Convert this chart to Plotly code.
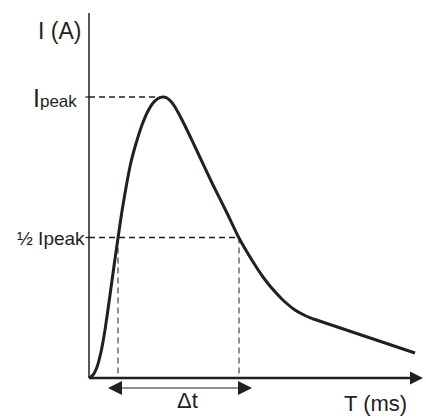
import plotly.graph_objects as go

# Schematic current pulse (T in ms, I in A; arbitrary units)
t_rise = [0, 0.4, 0.8, 1.2, 1.6, 2.1, 2.5, 2.9, 3.3, 3.8, 4.2, 4.6, 5.3, 5.9, 6.4, 6.9, 7.4,
          7.8, 8.2, 8.6, 9.1, 9.9, 10.8, 12.4, 13.7, 15.0, 15.8, 16.6, 17.4, 18.1, 18.9,
          19.6, 20.6, 21.6, 22.3]
i_rise = [0, 0.3, 1.1, 2.6, 4.8, 8.3, 11.2, 14.0, 16.7, 19.6, 21.6, 23.1, 25.3, 26.7, 27.5,
          27.95, 28.1, 28.0, 27.65, 27.1, 26.2, 24.6, 22.7, 19.3, 16.7, 14.0, 12.6, 11.3,
          10.1, 9.2, 8.3, 7.6, 6.8, 6.25, 5.95]
t_tail = [22.3, 32.6]
i_tail = [5.95, 2.5]

t_peak = 7.4
i_peak = 28.1
i_half = 14.05
t_half = [2.9, 15.0]

t_axis_end = 33.4
i_axis_end = 36.5
i_dt_arrow = -1.0

ink = "#231f20"
font = "Arial, Liberation Sans, Helvetica, sans-serif"

fig = go.Figure()

# axes
fig.add_trace(go.Scatter(x=[0, 0], y=[0, i_axis_end], mode="lines",
                         line=dict(color=ink, width=1.5), hoverinfo="skip"))
fig.add_trace(go.Scatter(x=[0, t_axis_end - 0.8], y=[0, 0], mode="lines",
                         line=dict(color=ink, width=2.6), hoverinfo="skip"))
fig.add_trace(go.Scatter(x=[t_axis_end], y=[0], mode="markers",
                         marker=dict(symbol="arrow-right", size=13, color=ink,
                                     line=dict(width=0)), hoverinfo="skip"))

# small ticks on the y axis
for yv in [i_peak, i_half]:
    fig.add_trace(go.Scatter(x=[-0.35, 0], y=[yv, yv], mode="lines",
                             line=dict(color=ink, width=1.3), hoverinfo="skip"))

# dashed guide lines
dash = "6px,4px"
fig.add_trace(go.Scatter(x=[0, t_peak], y=[i_peak, i_peak], mode="lines",
                         line=dict(color=ink, width=1.3, dash=dash), hoverinfo="skip"))
fig.add_trace(go.Scatter(x=[0, t_half[1]], y=[i_half, i_half], mode="lines",
                         line=dict(color=ink, width=1.3, dash=dash), hoverinfo="skip"))
for tv in t_half:
    fig.add_trace(go.Scatter(x=[tv, tv], y=[i_half, 0], mode="lines",
                             line=dict(color=ink, width=1.0, dash=dash), hoverinfo="skip"))

# pulse curve
fig.add_trace(go.Scatter(x=t_rise, y=i_rise, mode="lines",
                         line=dict(color=ink, width=3, shape="spline", smoothing=0.5),
                         hoverinfo="skip"))
fig.add_trace(go.Scatter(x=t_tail, y=i_tail, mode="lines",
                         line=dict(color=ink, width=3), hoverinfo="skip"))

# delta-t double arrow
dt_left = t_half[0] - 1.0
dt_right = t_half[1] + 1.3
fig.add_trace(go.Scatter(x=[dt_left + 1.0, dt_right - 1.0], y=[i_dt_arrow, i_dt_arrow],
                         mode="lines", line=dict(color=ink, width=1.2), hoverinfo="skip"))
fig.add_trace(go.Scatter(x=[dt_left], y=[i_dt_arrow], mode="markers",
                         marker=dict(symbol="arrow-left", size=14, color=ink, line=dict(width=0)),
                         hoverinfo="skip"))
fig.add_trace(go.Scatter(x=[dt_right], y=[i_dt_arrow], mode="markers",
                         marker=dict(symbol="arrow-right", size=14, color=ink, line=dict(width=0)),
                         hoverinfo="skip"))

# labels
ann = [
    dict(x=-0.6, y=i_axis_end - 1.8, text="I (A)", size=23, xanchor="right"),
    dict(x=-1.0, y=i_peak - 0.1,
         text="I<span style='font-size:17px'>peak</span>", size=25, xanchor="right"),
    dict(x=-0.25, y=i_half - 0.1, text="½ Ipeak", size=19, xanchor="right"),
    dict(x=(t_half[0] + t_half[1]) / 2 + 0.85, y=i_dt_arrow - 1.2, text="Δt", size=22,
         xanchor="center"),
    dict(x=28.6, y=-2.55, text="T (ms)", size=22, xanchor="center"),
]
for a in ann:
    fig.add_annotation(x=a["x"], y=a["y"], text=a["text"], xref="x", yref="y",
                       showarrow=False, xanchor=a["xanchor"], yanchor="middle",
                       font=dict(family=font, size=a["size"], color=ink))

fig.update_layout(
    width=426, height=417,
    margin=dict(l=0, r=0, t=0, b=0),
    paper_bgcolor="white", plot_bgcolor="white",
    showlegend=False,
    xaxis=dict(range=[-8.9, 33.7], visible=False),
    yaxis=dict(range=[-3.9, 37.8], visible=False),
)

fig.write_html("out.html")
